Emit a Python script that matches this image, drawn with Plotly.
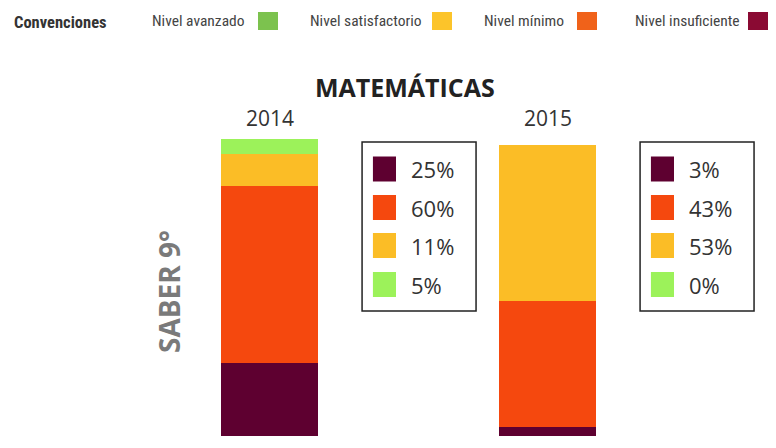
import plotly.graph_objects as go

# ---- data ----
years = ["2014", "2015"]
levels = ["Nivel insuficiente", "Nivel mínimo", "Nivel satisfactorio", "Nivel avanzado"]
insuficiente = [25, 3]
minimo = [60, 43]
satisfactorio = [11, 53]
avanzado = [5, 0]
series = [insuficiente, minimo, satisfactorio, avanzado]

bar_colors = ["#5E0030", "#F5480E", "#FBBD26", "#9CF25A"]
conv_labels = ["Nivel avanzado", "Nivel satisfactorio", "Nivel mínimo", "Nivel insuficiente"]
conv_colors = ["#7CC24E", "#FCC42A", "#F0621A", "#8A0A33"]

W, H = 776, 448
fig = go.Figure()

for name, vals, col in zip(levels, series, bar_colors):
    fig.add_trace(go.Bar(x=[0, 1], y=vals, name=name, marker=dict(color=col, line=dict(width=0)),
                         width=0.35, showlegend=False, hoverinfo="y+name"))

shapes = []
annotations = []

row_y = [169, 207.5, 245.5, 284.5]  # pixel centers of legend rows
def py2y(py):
    return (436 - py) / 2.94

for i, yr in enumerate(years):
    shapes.append(dict(type="rect", xref="x", yref="y", x0=i + 0.333, x1=i + 0.743, y0=py2y(142), y1=py2y(311),
                       line=dict(color="#222", width=1.5), fillcolor="rgba(0,0,0,0)"))
    for r, (vals, col) in enumerate(zip(series, bar_colors)):
        cy = row_y[r]
        shapes.append(dict(type="rect", xref="x", yref="y", x0=i + 0.372, x1=i + 0.455,
                           y0=py2y(cy + 12.5), y1=py2y(cy - 12.5), line=dict(width=0), fillcolor=col))
        annotations.append(dict(xref="x", yref="y", x=i + 0.500, y=py2y(cy), text=f"{vals[i]}%",
                                showarrow=False, xanchor="left", yanchor="middle",
                                font=dict(family="Open Sans, sans-serif", size=22, color="#333")))
    annotations.append(dict(xref="x", yref="y", x=i, y=py2y(118), text=yr, showarrow=False,
                            xanchor="center", yanchor="middle",
                            font=dict(family="Open Sans, sans-serif", size=21, color="#333")))

annotations.append(dict(xref="paper", yref="paper", x=405 / W, y=1 - 87 / H, text="<b>MATEMÁTICAS</b>",
                        showarrow=False, xanchor="center", yanchor="middle",
                        font=dict(family="Open Sans, sans-serif", size=25, color="#222")))
annotations.append(dict(xref="paper", yref="paper", x=169 / W, y=1 - 292 / H, text="<b>SABER 9°</b>",
                        showarrow=False, textangle=-90, xanchor="center", yanchor="middle",
                        font=dict(family="Open Sans, sans-serif", size=28, color="#7a7a7a")))

cond = "Roboto Condensed, Roboto, sans-serif"
annotations.append(dict(xref="paper", yref="paper", x=12 / W, y=1 - 22 / H, text="<b>Convenciones</b>",
                        showarrow=False, xanchor="left", yanchor="middle",
                        font=dict(family=cond, size=16.5, color="#333")))
text_x = [150, 308, 482, 633]
sq_x = [258, 432, 577, 748]
for lab, col, tx, sx in zip(conv_labels, conv_colors, text_x, sq_x):
    annotations.append(dict(xref="paper", yref="paper", x=tx / W, y=1 - 21 / H, text=lab,
                            showarrow=False, xanchor="left", yanchor="middle",
                            font=dict(family=cond, size=15.5, color="#444")))
    shapes.append(dict(type="rect", xref="paper", yref="paper", x0=sx / W, x1=(sx + 20) / W,
                       y0=1 - 30 / H, y1=1 - 12 / H, line=dict(width=0), fillcolor=col))

xmin = -269.5 / 278
fig.update_layout(
    width=W, height=H, barmode="stack",
    margin=dict(l=0, r=0, t=0, b=0),
    paper_bgcolor="white", plot_bgcolor="white",
    xaxis=dict(range=[xmin, xmin + W / 278], visible=False, fixedrange=True),
    yaxis=dict(range=[-(H - 436) / 2.94, 436 / 2.94], visible=False, fixedrange=True),
    shapes=shapes, annotations=annotations, bargap=0,
)

fig.write_html("out.html", config={"displayModeBar": False},
               post_script="document.body.style.margin='0';document.body.style.overflow='hidden';")
